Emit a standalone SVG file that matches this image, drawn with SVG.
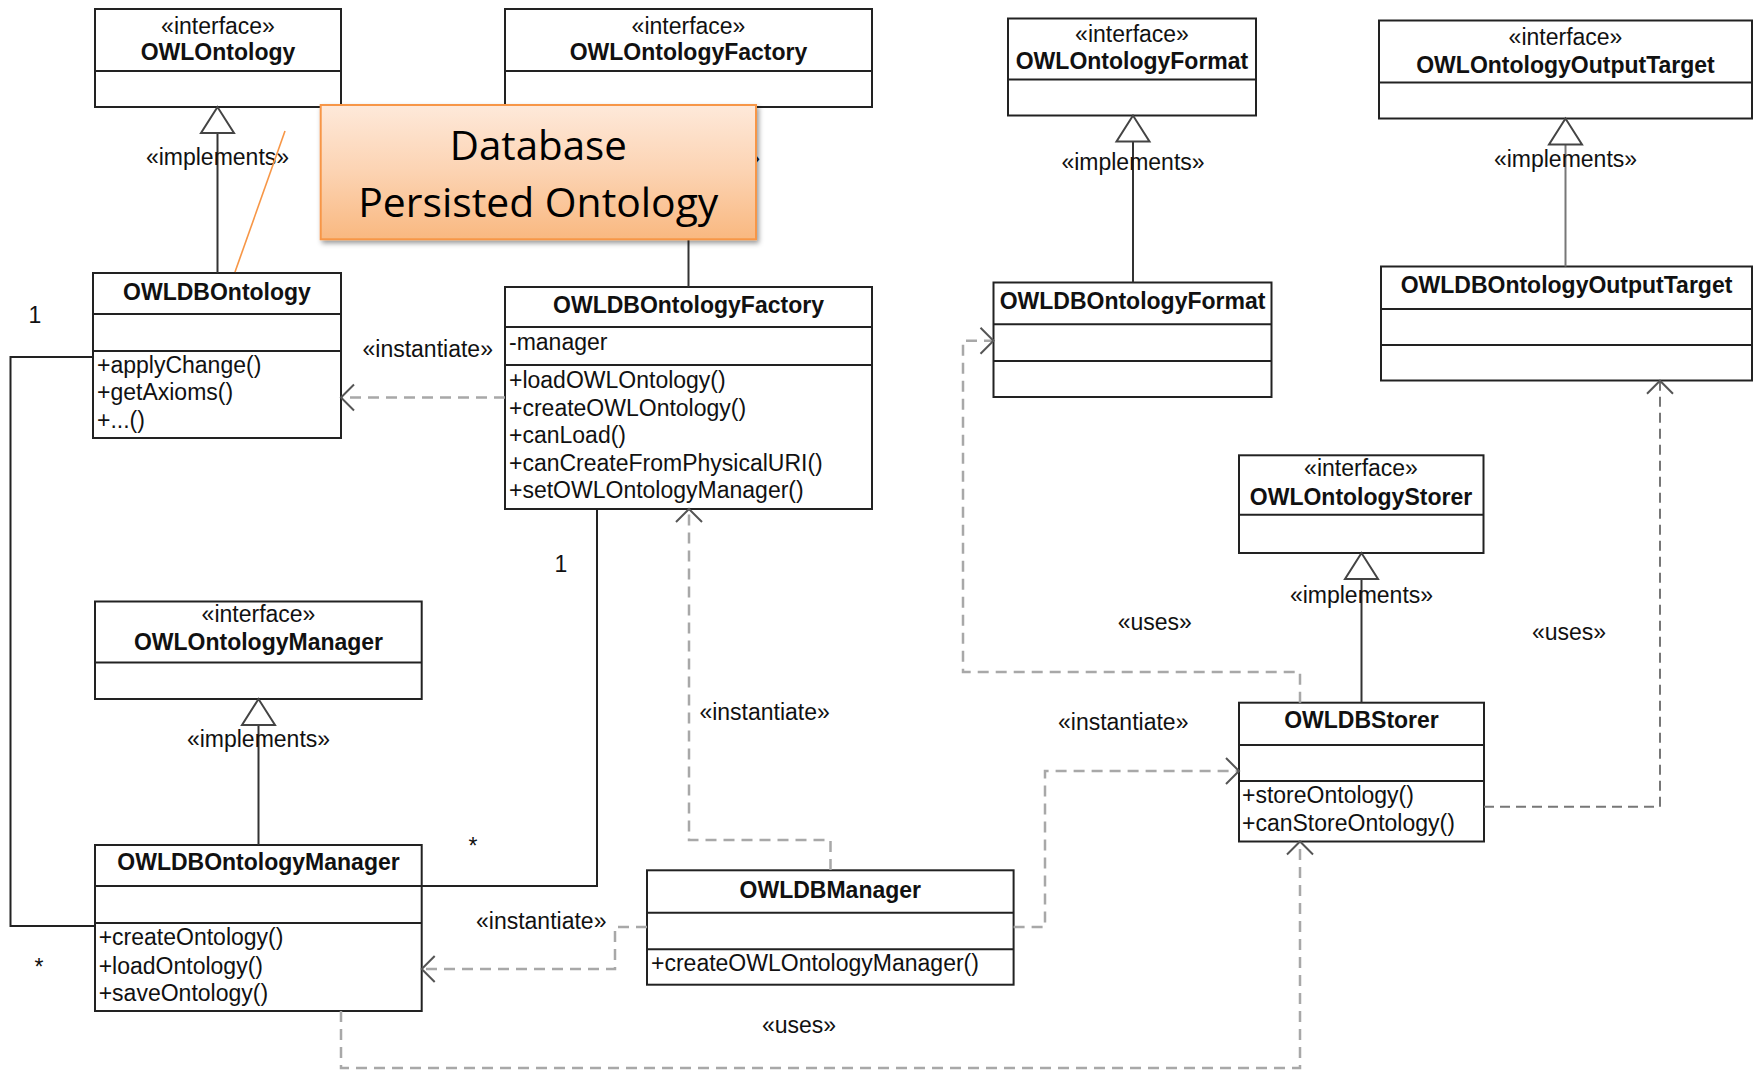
<svg xmlns="http://www.w3.org/2000/svg" width="1758" height="1072" viewBox="0 0 1758 1072">
  <defs>
    <style>
      .box{fill:#fff;stroke:#222;stroke-width:2}
      .sep{stroke:#222;stroke-width:2}
      .t{font-family:"Liberation Sans",Arial,sans-serif;font-size:23px;fill:#111}
      .n{font-weight:bold;text-anchor:middle}
      .c{text-anchor:middle}
      .assoc{fill:none;stroke:#222;stroke-width:2}
      .real{fill:none;stroke:#333;stroke-width:2;marker-end:url(#tri)}
      .dep{fill:none;stroke:#a8a8a8;stroke-width:2.5;stroke-dasharray:11 7;marker-end:url(#open)}
      .note-text{font-family:"Open Sans","Noto Sans",sans-serif;font-size:40px;fill:#000;text-anchor:middle}
    </style>
    <marker id="tri" markerUnits="userSpaceOnUse" viewBox="-30 -20 32 40" refX="0" refY="0" markerWidth="32" markerHeight="40" orient="auto" overflow="visible">
      <path d="M0,0 L-26,-16.5 L-26,16.5 Z" fill="#fff" stroke="#444" stroke-width="2" stroke-dasharray="none"/>
    </marker>
    <marker id="open" markerUnits="userSpaceOnUse" viewBox="-16 -16 18 32" refX="0" refY="0" markerWidth="18" markerHeight="32" orient="auto" overflow="visible">
      <path d="M-13,-13 L0,0 L-13,13" fill="none" stroke="#555" stroke-width="2" stroke-dasharray="none"/>
    </marker>
    <linearGradient id="noteFill" x1="0" y1="0" x2="0" y2="1">
      <stop offset="0" stop-color="#fee9da"/>
      <stop offset="0.5" stop-color="#fcd3b2"/>
      <stop offset="1" stop-color="#f9b880"/>
    </linearGradient>
    <filter id="shadow" x="-10%" y="-10%" width="125%" height="130%">
      <feDropShadow dx="2" dy="3" stdDeviation="2.5" flood-color="#000" flood-opacity="0.4"/>
    </filter>
  </defs>

  <!-- class boxes -->
  <g id="OWLOntology">
    <rect class="box" x="95" y="9" width="246" height="98"/>
    <line class="sep" x1="95" y1="71" x2="341" y2="71"/>
    <text class="t c" x="218" y="33.5">«interface»</text>
    <text class="t n" x="218" y="60">OWLOntology</text>
  </g>

  <g id="OWLOntologyFactory">
    <rect class="box" x="505" y="9" width="367" height="98"/>
    <line class="sep" x1="505" y1="71" x2="872" y2="71"/>
    <text class="t c" x="688.5" y="33.5">«interface»</text>
    <text class="t n" x="688.5" y="60">OWLOntologyFactory</text>
  </g>

  <g id="OWLOntologyFormat">
    <rect class="box" x="1008" y="18.5" width="248" height="97"/>
    <line class="sep" x1="1008" y1="79.5" x2="1256" y2="79.5"/>
    <text class="t c" x="1132" y="42">«interface»</text>
    <text class="t n" x="1132" y="68.5">OWLOntologyFormat</text>
  </g>

  <g id="OWLOntologyOutputTarget">
    <rect class="box" x="1379" y="20.5" width="373" height="98"/>
    <line class="sep" x1="1379" y1="82.5" x2="1752" y2="82.5"/>
    <text class="t c" x="1565.5" y="45">«interface»</text>
    <text class="t n" x="1565.5" y="72.5">OWLOntologyOutputTarget</text>
  </g>

  <g id="OWLDBOntology">
    <rect class="box" x="93" y="273" width="248" height="165"/>
    <line class="sep" x1="93" y1="314" x2="341" y2="314"/>
    <line class="sep" x1="93" y1="351" x2="341" y2="351"/>
    <text class="t n" x="217" y="300">OWLDBOntology</text>
    <text class="t" x="97" y="373">+applyChange()</text>
    <text class="t" x="97" y="400">+getAxioms()</text>
    <text class="t" x="97" y="428">+...()</text>
  </g>

  <g id="OWLDBOntologyFactory">
    <rect class="box" x="505" y="287" width="367" height="222"/>
    <line class="sep" x1="505" y1="327" x2="872" y2="327"/>
    <line class="sep" x1="505" y1="365" x2="872" y2="365"/>
    <text class="t n" x="688.5" y="313">OWLDBOntologyFactory</text>
    <text class="t" x="509" y="350">-manager</text>
    <text class="t" x="509" y="388">+loadOWLOntology()</text>
    <text class="t" x="509" y="415.5">+createOWLOntology()</text>
    <text class="t" x="509" y="443">+canLoad()</text>
    <text class="t" x="509" y="470.5">+canCreateFromPhysicalURI()</text>
    <text class="t" x="509" y="498">+setOWLOntologyManager()</text>
  </g>

  <g id="OWLDBOntologyFormat">
    <rect class="box" x="993.5" y="282.5" width="278" height="114.5"/>
    <line class="sep" x1="993.5" y1="324.3" x2="1271.5" y2="324.3"/>
    <line class="sep" x1="993.5" y1="361" x2="1271.5" y2="361"/>
    <text class="t n" x="1132.5" y="309">OWLDBOntologyFormat</text>
  </g>

  <g id="OWLDBOntologyOutputTarget">
    <rect class="box" x="1381" y="266.5" width="371" height="114"/>
    <line class="sep" x1="1381" y1="309" x2="1752" y2="309"/>
    <line class="sep" x1="1381" y1="345" x2="1752" y2="345"/>
    <text class="t n" x="1566.5" y="293.3">OWLDBOntologyOutputTarget</text>
  </g>

  <g id="OWLOntologyStorer">
    <rect class="box" x="1239" y="455.3" width="244.5" height="97.7"/>
    <line class="sep" x1="1239" y1="514.8" x2="1483.5" y2="514.8"/>
    <text class="t c" x="1361" y="476">«interface»</text>
    <text class="t n" x="1361" y="505">OWLOntologyStorer</text>
  </g>

  <g id="OWLDBStorer">
    <rect class="box" x="1239" y="702.7" width="245" height="138.8"/>
    <line class="sep" x1="1239" y1="745" x2="1484" y2="745"/>
    <line class="sep" x1="1239" y1="781" x2="1484" y2="781"/>
    <text class="t n" x="1361.5" y="728">OWLDBStorer</text>
    <text class="t" x="1242" y="802.7">+storeOntology()</text>
    <text class="t" x="1242" y="830.7">+canStoreOntology()</text>
  </g>

  <g id="OWLOntologyManager">
    <rect class="box" x="95" y="601.5" width="326.7" height="97.5"/>
    <line class="sep" x1="95" y1="662.4" x2="421.7" y2="662.4"/>
    <text class="t c" x="258.5" y="622">«interface»</text>
    <text class="t n" x="258.5" y="650.4">OWLOntologyManager</text>
  </g>

  <g id="OWLDBOntologyManager">
    <rect class="box" x="95" y="845" width="326.7" height="166"/>
    <line class="sep" x1="95" y1="886" x2="421.7" y2="886"/>
    <line class="sep" x1="95" y1="923" x2="421.7" y2="923"/>
    <text class="t n" x="258.5" y="870.4">OWLDBOntologyManager</text>
    <text class="t" x="98.7" y="945">+createOntology()</text>
    <text class="t" x="98.7" y="973.5">+loadOntology()</text>
    <text class="t" x="98.7" y="1000.5">+saveOntology()</text>
  </g>

  <g id="OWLDBManager">
    <rect class="box" x="647" y="870.3" width="366.6" height="114.4"/>
    <line class="sep" x1="647" y1="912.7" x2="1013.6" y2="912.7"/>
    <line class="sep" x1="647" y1="949.3" x2="1013.6" y2="949.3"/>
    <text class="t n" x="830.3" y="898">OWLDBManager</text>
    <text class="t" x="651" y="971">+createOWLOntologyManager()</text>
  </g>

  <!-- connectors -->
  <g id="connectors">
    <!-- realizations -->
    <path class="real" d="M217.5,273 V107"/>
    <path class="real" d="M688.5,287 V107"/>
    <path class="real" d="M1133,282.5 V115.5"/>
    <path class="real" d="M1565.5,266.5 V118.5" style="stroke:#777"/>
    <path class="real" d="M258.5,845 V699"/>
    <path class="real" d="M1361.5,702.7 V553"/>
    <text class="t c" x="217.5" y="165">«implements»</text>
    <text class="t c" x="688.5" y="166">«implements»</text>
    <text class="t c" x="1133" y="170">«implements»</text>
    <text class="t c" x="1565.5" y="166.7">«implements»</text>
    <text class="t c" x="258.5" y="747.4">«implements»</text>
    <text class="t c" x="1361.5" y="603">«implements»</text>

    <!-- associations -->
    <path class="assoc" d="M93,357 H10.5 V926 H95"/>
    <path class="assoc" d="M421.7,886 H597 V509"/>
    <text class="t c" x="35" y="323">1</text>
    <text class="t c" x="39" y="975">*</text>
    <text class="t c" x="561" y="572">1</text>
    <text class="t c" x="473" y="854">*</text>

    <!-- dependencies -->
    <path class="dep" d="M505,397.5 H341"/>
    <text class="t" x="362.5" y="357">«instantiate»</text>
    <path class="dep" d="M830.5,870 V840 H689 V509"/>
    <text class="t" x="699.4" y="720">«instantiate»</text>
    <path class="dep" d="M647,927 H615 V969 H421.7"/>
    <text class="t" x="476" y="929">«instantiate»</text>
    <path class="dep" d="M1013.6,927 H1045 V771 H1239"/>
    <text class="t" x="1058" y="730">«instantiate»</text>
    <path class="dep" d="M1300,702.7 V672 H963 V340.7 H993.5"/>
    <text class="t" x="1117.7" y="630">«uses»</text>
    <path class="dep" d="M1484,806.7 H1660 V380.7" style="stroke:#777;stroke-width:2;stroke-dasharray:10 6"/>
    <text class="t" x="1532" y="640">«uses»</text>
    <path class="dep" d="M341,1011 V1068 H1300 V841.5"/>
    <text class="t" x="762" y="1033">«uses»</text>
  </g>

  <!-- callout note -->
  <g id="note-db">
    <line x1="285" y1="131" x2="235" y2="272" stroke="#f79646" stroke-width="1.6"/>
    <rect x="320.7" y="105" width="435.3" height="134.3" fill="url(#noteFill)" stroke="#f79646" stroke-width="2" filter="url(#shadow)"/>
    <text class="note-text" x="538.3" y="160" textLength="177" lengthAdjust="spacingAndGlyphs">Database</text>
    <text class="note-text" x="538.3" y="216.7" textLength="360" lengthAdjust="spacingAndGlyphs">Persisted Ontology</text>
  </g>
</svg>
